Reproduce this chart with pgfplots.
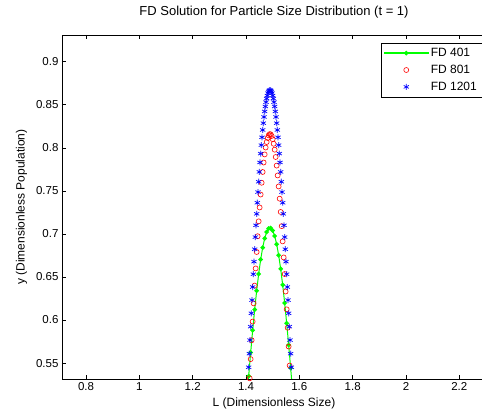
\documentclass[border=0pt]{standalone}
\usepackage{pgfplots}
\pgfplotsset{compat=1.18}
\usepackage{fontspec}
\setmainfont{Liberation Sans}
\definecolor{mgreen}{rgb}{0,1,0}
\definecolor{mred}{rgb}{1,0,0}
\definecolor{mblue}{rgb}{0,0,1}
\begin{document}
\begin{tikzpicture}
\begin{axis}[
  name=ax,
  scale only axis,
  width=424pt, height=344pt,
  xmin=0.71, xmax=2.30,
  ymin=0.5315, ymax=0.931,
  xtick={0.8,1,1.2,1.4,1.6,1.8,2,2.2},
  xticklabels={0.8,1,1.2,1.4,1.6,1.8,2,2.2},
  ytick={0.55,0.6,0.65,0.7,0.75,0.8,0.85,0.9},
  yticklabels={0.55,0.6,0.65,0.7,0.75,0.8,0.85,0.9},
  tick align=inside,
  major tick length=4pt,
  axis line style={line width=0.6pt},
  every tick/.style={black, line width=0.5pt},
  tick label style={font=\fontsize{11.5}{13}\selectfont},
  label style={font=\fontsize{12}{14}\selectfont},
  ylabel style={yshift=2pt},
  title style={font=\fontsize{13}{15}\selectfont, yshift=7pt},
  title={FD Solution for Particle Size Distribution (t = 1)},
  xlabel={L (Dimensionless Size)},
  ylabel={y (Dimensionless Population)},
  legend cell align=left,
  legend style={at={(rel axis cs:1,1)}, anchor=north east, xshift=-4pt, yshift=-8pt,
    fill=white, font=\fontsize{12}{14}\selectfont,
    row sep=3pt, inner sep=3pt},
  legend image code/.code={\draw[mark repeat=2,mark phase=2,#1] plot coordinates {(0pt,0pt) (22pt,0pt) (44pt,0pt)};},
]
\addplot[color=mgreen, line width=1.0pt, mark=*, mark size=1.8pt,
  legend image code/.code={\fill[fill=mgreen] (0pt,-0.5pt) rectangle (44pt,0.5pt); \fill[fill=mgreen] (22pt,0pt) circle (1.8pt);}] coordinates {
(1.4025,0.5064) (1.41,0.5348) (1.4175,0.5623) (1.425,0.5881) (1.4325,0.6121)
(1.44,0.6340) (1.4475,0.6535) (1.455,0.6702) (1.4625,0.6841) (1.47,0.6948)
(1.4775,0.7022) (1.485,0.7062) (1.4925,0.7068) (1.5,0.7039) (1.5075,0.6976)
(1.515,0.6880) (1.5225,0.6752) (1.53,0.6594) (1.5375,0.6408) (1.545,0.6197)
(1.5525,0.5963) (1.56,0.5710) (1.5675,0.5442) (1.575,0.5160) (1.5825,0.4869)
};
\addlegendentry{FD 401}
\addplot[only marks, color=mred, mark=o, mark size=2.5pt, mark options={line width=0.6pt}] coordinates {
(1.41,0.5098) (1.41375,0.5323) (1.4175,0.5546) (1.42125,0.5765) (1.425,0.5982)
(1.42875,0.6193) (1.4325,0.6400) (1.43625,0.6599) (1.44,0.6790) (1.44375,0.6973)
(1.4475,0.7146) (1.45125,0.7307) (1.455,0.7457) (1.45875,0.7594) (1.4625,0.7719)
(1.46625,0.7829) (1.47,0.7923) (1.47375,0.8003) (1.4775,0.8067) (1.48125,0.8114)
(1.485,0.8145) (1.48875,0.8159) (1.4925,0.8156) (1.49625,0.8137) (1.5,0.8100)
(1.50375,0.8047) (1.5075,0.7978) (1.51125,0.7893) (1.515,0.7793) (1.51875,0.7679)
(1.5225,0.7551) (1.52625,0.7409) (1.53,0.7255) (1.53375,0.7090) (1.5375,0.6913)
(1.54125,0.6727) (1.545,0.6534) (1.54875,0.6331) (1.5525,0.6124) (1.55625,0.5910)
(1.56,0.5692) (1.56375,0.5471) (1.5675,0.5248)
};
\addlegendentry{FD 801}
\addplot[only marks, color=mblue, mark=asterisk, mark size=3pt, mark options={line width=0.7pt}] coordinates {
(1.405,0.5135) (1.4075,0.5293) (1.41,0.5451) (1.4125,0.5609) (1.415,0.5767)
(1.4175,0.5923) (1.42,0.6078) (1.4225,0.6231) (1.425,0.6383) (1.4275,0.6532)
(1.43,0.6678) (1.4325,0.6822) (1.435,0.6963) (1.4375,0.7100) (1.44,0.7233)
(1.4425,0.7362) (1.445,0.7486) (1.4475,0.7606) (1.45,0.7720) (1.4525,0.7830)
(1.455,0.7933) (1.4575,0.8031) (1.46,0.8122) (1.4625,0.8207) (1.465,0.8286)
(1.4675,0.8358) (1.47,0.8422) (1.4725,0.8480) (1.475,0.8530) (1.4775,0.8572)
(1.48,0.8607) (1.4825,0.8635) (1.485,0.8654) (1.4875,0.8666) (1.49,0.8670)
(1.4925,0.8666) (1.495,0.8654) (1.4975,0.8635) (1.5,0.8607) (1.5025,0.8572)
(1.505,0.8530) (1.5075,0.8480) (1.51,0.8422) (1.5125,0.8358) (1.515,0.8286)
(1.5175,0.8207) (1.52,0.8122) (1.5225,0.8031) (1.525,0.7933) (1.5275,0.7830)
(1.53,0.7720) (1.5325,0.7606) (1.535,0.7486) (1.5375,0.7362) (1.54,0.7233)
(1.5425,0.7100) (1.545,0.6963) (1.5475,0.6822) (1.55,0.6678) (1.5525,0.6532)
(1.555,0.6383) (1.5575,0.6231) (1.56,0.6078) (1.5625,0.5923) (1.565,0.5767)
(1.5675,0.5609) (1.57,0.5451) (1.5725,0.5293) (1.575,0.5135)
};
\addlegendentry{FD 1201}
\end{axis}
\pgfresetboundingbox
\useasboundingbox ([xshift=-62pt,yshift=-35pt]ax.south west) rectangle ([xshift=-4pt,yshift=35pt]ax.north east);
\end{tikzpicture}
\end{document}
